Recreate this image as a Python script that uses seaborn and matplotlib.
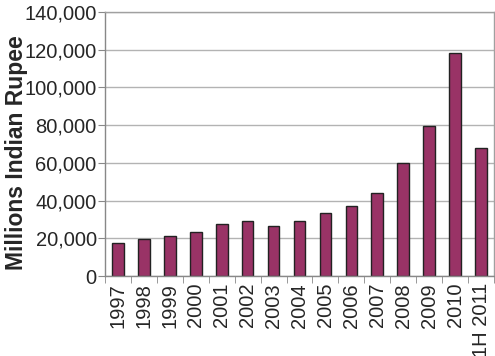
import numpy as np
import pandas as pd
import matplotlib
matplotlib.use("Agg")
import matplotlib.pyplot as plt
from matplotlib.ticker import StrMethodFormatter, FixedLocator
import seaborn as sns

# values (millions of Indian rupee)
years = ["1997", "1998", "1999", "2000", "2001", "2002", "2003", "2004",
         "2005", "2006", "2007", "2008", "2009", "2010", "1H 2011"]
values = [17700, 19500, 21200, 23500, 27600, 29000, 26500, 29200,
          33200, 37100, 43800, 59700, 79500, 118400, 67700]

df = pd.DataFrame({"year": years, "value": values})

sns.set_style("white")
plt.rcParams["font.family"] = ["Liberation Sans", "DejaVu Sans"]

fig = plt.figure(figsize=(4.95, 3.56), dpi=100)
ax = fig.add_axes([105/495, 1-276/356, 389/495, 264/356])

sns.barplot(data=df, x="year", y="value", color="#993366", saturation=1,
            edgecolor="#222222", linewidth=1, width=0.45, ax=ax)

ax.set_ylim(0, 140000)
ax.set_xlim(-0.5, len(years) - 0.5)
ax.set_yticks(np.arange(0, 140001, 20000))
ax.yaxis.set_major_formatter(StrMethodFormatter("{x:,.0f}"))
ax.yaxis.grid(True, color="#b3b3b3", linewidth=1)
ax.set_axisbelow(True)

for s in ax.spines.values():
    s.set_color("#a0a0a0")
    s.set_linewidth(1)
ax.spines["left"].set_color("#888888")
ax.spines["bottom"].set_color("#888888")

# category boundary ticks on the x axis
ax.xaxis.set_minor_locator(FixedLocator(np.arange(-0.5, len(years), 1)))
ax.tick_params(axis="x", which="major", length=0, pad=5, labelsize=14.5, rotation=90)
ax.tick_params(axis="x", which="minor", length=5, color="#888888", bottom=True)
ax.tick_params(axis="y", length=5, pad=1, color="#888888", labelsize=14.5, left=True)

ax.set_xlabel("")
ax.set_ylabel("Millions Indian Rupee", fontsize=16.5, fontweight="bold")
ax.yaxis.set_label_coords(-0.198, 0.468)

fig.savefig("out.png", dpi=100)
